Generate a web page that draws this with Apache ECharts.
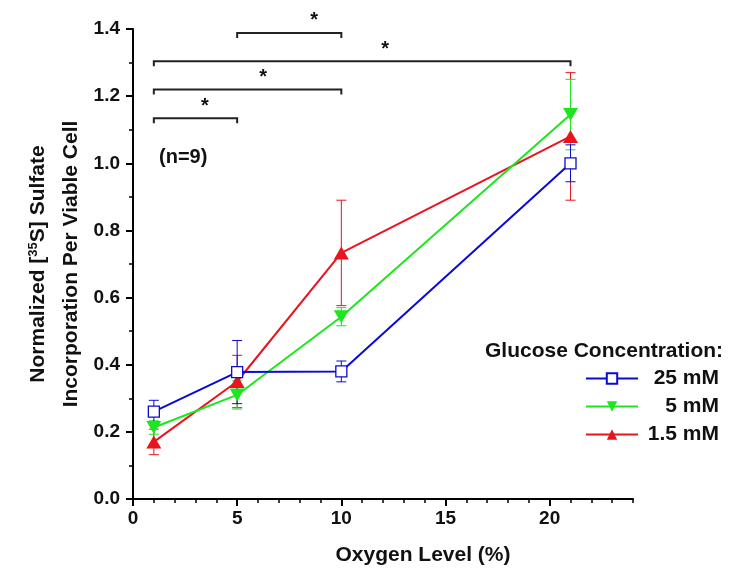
<!DOCTYPE html>
<html><head><meta charset="utf-8">
<script src="https://cdn.jsdelivr.net/npm/echarts@6/dist/echarts.min.js"></script>
<style>html,body{margin:0;padding:0;background:#fff}#c{width:731px;height:580px}</style>
</head><body><div id="c"></div>
<script>
// Oxygen levels (%)
const oxygen = [1, 5, 10, 21];
// Glucose 25 mM
const glu25 = [0.26, 0.378, 0.38, 1.0];
const glu25Err = [0.034, 0.094, 0.031, 0.055];
// Glucose 5 mM
const glu5 = [0.213, 0.31, 0.543, 1.145];
const glu5Err = [0.02, 0.042, 0.027, 0.105];
// Glucose 1.5 mM
const glu15 = [0.17, 0.35, 0.733, 1.08];
const glu15Err = [0.038, 0.078, 0.157, 0.19];
// significance brackets: [from x, to x, y]
const brackets = [[1, 5, 1.134], [1, 10, 1.22], [1, 21, 1.304], [5, 10, 1.388]];
// star labels: [x, y]
const stars = [[3.45, 1.168], [6.25, 1.255], [12.1, 1.34], [8.7, 1.426]];
const seriesNames = ['25 mM', '5 mM', '1.5 mM'];

const BLUE = '#0a0ad6', GREEN = '#1ee61e', RED = '#e8141e';
const FONT = 'Liberation Sans, Arial, sans-serif';

function pairs(vals) { return oxygen.map((x, i) => [x, vals[i]]); }
function errData(vals, errs) { return oxygen.map((x, i) => [x, vals[i] - errs[i], vals[i] + errs[i]]); }

function errSeries(vals, errs, color) {
  return {
    type: 'custom', silent: true, z: 1,
    data: errData(vals, errs),
    renderItem: function (params, api) {
      const x = api.value(0);
      const lo = api.coord([x, api.value(1)]);
      const hi = api.coord([x, api.value(2)]);
      const w = 5;
      const st = { stroke: color, lineWidth: 1 };
      return { type: 'group', children: [
        { type: 'line', shape: { x1: lo[0], y1: lo[1], x2: hi[0], y2: hi[1] }, style: st },
        { type: 'line', shape: { x1: lo[0] - w, y1: lo[1], x2: lo[0] + w, y2: lo[1] }, style: st },
        { type: 'line', shape: { x1: hi[0] - w, y1: hi[1], x2: hi[0] + w, y2: hi[1] }, style: st }
      ]};
    }
  };
}

const chart = echarts.init(document.getElementById('c'));
const axisLabelStyle = { color: '#111', fontFamily: FONT, fontWeight: 'bold', fontSize: 19 };
chart.setOption({
  animation: false,
  backgroundColor: '#fff',
  grid: { left: 133, right: 98, top: 29, bottom: 81, outerBoundsMode: 'none', containLabel: false },
  xAxis: [
    { type: 'value', min: 0, max: 24, interval: 5,
      axisLine: { lineStyle: { color: '#000', width: 2 } },
      axisTick: { length: 7, lineStyle: { color: '#000', width: 2 } },
      splitLine: { show: false },
      axisLabel: Object.assign({ showMaxLabel: false, margin: 10 }, axisLabelStyle),
      name: 'Oxygen Level (%)', nameLocation: 'middle', nameGap: 46, nameMoveOverlap: false,
      nameTextStyle: { color: '#111', fontFamily: FONT, fontWeight: 'bold', fontSize: 21, padding: [0, 0, 0, 80] } },
    { type: 'value', min: 0, max: 24, interval: 1, position: 'bottom',
      axisLine: { show: false }, axisLabel: { show: false }, splitLine: { show: false },
      axisTick: { length: 4, lineStyle: { color: '#000', width: 1.5 } } }
  ],
  yAxis: [
    { type: 'value', min: 0, max: 1.4, interval: 0.2,
      axisLine: { show: true, lineStyle: { color: '#000', width: 2 } },
      axisTick: { show: true, length: 7, lineStyle: { color: '#000', width: 2 } },
      splitLine: { show: false },
      axisLabel: Object.assign({ margin: 13, formatter: v => v.toFixed(1) }, axisLabelStyle),
      name: '{a|Normalized [}{s|35}{a|S] Sulfate}\n{a|Incorporation Per Viable Cell}',
      nameLocation: 'middle', nameGap: 45, nameRotate: 90, nameMoveOverlap: false,
      nameTextStyle: { color: '#111', fontFamily: FONT, fontWeight: 'bold', fontSize: 21, lineHeight: 33,
        rich: { a: { fontFamily: FONT, fontWeight: 'bold', fontSize: 21, color: '#111', lineHeight: 33 },
                s: { fontFamily: FONT, fontWeight: 'bold', fontSize: 13, color: '#111', padding: [0, 0, 10, 0] } } } },
    { type: 'value', min: 0, max: 1.4, interval: 0.1, position: 'left',
      axisLine: { show: false }, axisLabel: { show: false }, splitLine: { show: false },
      axisTick: { show: true, length: 4, lineStyle: { color: '#000', width: 1.5 } } }
  ],
  legend: {
    orient: 'vertical', left: 580, top: 363, itemGap: 7, itemWidth: 52, itemHeight: 13,
    data: seriesNames,
    formatter: n => '{r|' + n + '}',
    textStyle: { color: '#111', fontFamily: FONT, fontWeight: 'bold', fontSize: 21,
      rich: { r: { width: 76, align: 'right', lineHeight: 20, fontFamily: FONT, fontWeight: 'bold', fontSize: 21, color: '#111' } } }
  },
  graphic: [
    { type: 'text', left: 485, top: 341, style: { text: 'Glucose Concentration:', fill: '#111',
      font: 'bold 21px Liberation Sans, Arial, sans-serif' } },
    { type: 'text', left: 159, top: 147, style: { text: '(n=9)', fill: '#111',
      font: 'bold 20px Liberation Sans, Arial, sans-serif' } }
  ],
  series: [
    errSeries(glu15, glu15Err, RED),
    errSeries(glu5, glu5Err, GREEN),
    errSeries(glu25, glu25Err, BLUE),
    { name: '1.5 mM', type: 'line', data: pairs(glu15), z: 3,
      symbol: 'triangle', symbolSize: [15, 13],
      lineStyle: { color: RED, width: 2 }, itemStyle: { color: RED } },
    { name: '5 mM', type: 'line', data: pairs(glu5), z: 4,
      symbol: 'triangle', symbolRotate: 180, symbolSize: [15, 13],
      lineStyle: { color: GREEN, width: 2 }, itemStyle: { color: GREEN } },
    { name: '25 mM', type: 'line', data: pairs(glu25), z: 5,
      symbol: 'rect', symbolSize: 11,
      lineStyle: { color: BLUE, width: 2 }, itemStyle: { color: '#fff', borderColor: BLUE, borderWidth: 1.3 } },
    { type: 'custom', silent: true, z: 6, clip: false,
      data: brackets,
      renderItem: function (params, api) {
        const a = api.coord([api.value(0), api.value(2)]);
        const b = api.coord([api.value(1), api.value(2)]);
        const st = { stroke: '#222', lineWidth: 2, fill: null };
        return { type: 'polyline', shape: { points: [[a[0], a[1] + 5], [a[0], a[1]], [b[0], b[1]], [b[0], b[1] + 5]] }, style: st };
      } },
    { type: 'custom', silent: true, z: 6, clip: false,
      data: stars,
      renderItem: function (params, api) {
        const p = api.coord([api.value(0), api.value(1)]);
        return { type: 'text', x: p[0], y: p[1], style: { text: '*', fill: '#111', align: 'center', verticalAlign: 'middle',
          font: 'bold 20px Liberation Sans, Arial, sans-serif' } };
      } }
  ]
});
</script></body></html>
